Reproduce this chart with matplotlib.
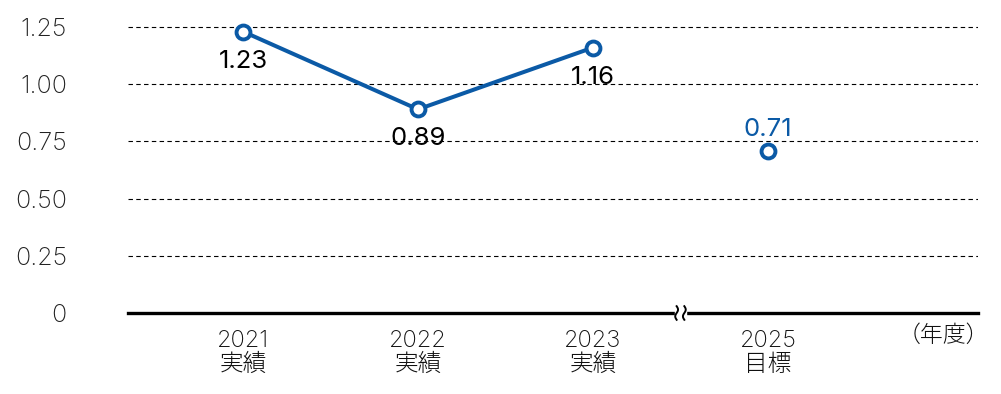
import numpy as np
import matplotlib.pyplot as plt
from matplotlib.transforms import blended_transform_factory

plt.rcParams['font.family'] = ['Inter', 'Noto Sans CJK JP', 'DejaVu Sans']

years = ["2021\n実績", "2022\n実績", "2023\n実績", "2025\n目標"]
actual_values = [1.23, 0.89, 1.16]
target_value = 0.71
y_ticks = [0, 0.25, 0.5, 0.75, 1.0, 1.25]
y_tick_labels = ["0", "0.25", "0.50", "0.75", "1.00", "1.25"]

blue = "#0b5aa6"

fig = plt.figure(figsize=(10.01, 3.94), dpi=100)
ax = fig.add_axes([0.1279, 0.2056, 0.977 - 0.1279, 0.9896 - 0.2056])

x_actual = np.arange(len(actual_values))
x_target = len(years) - 1

ax.plot(x_actual, actual_values, color=blue, lw=2.9, marker='o', ms=10,
        mfc='white', mec=blue, mew=2.8, zorder=3, clip_on=False)
ax.plot([x_target], [target_value], color=blue, lw=0, marker='o', ms=10,
        mfc='white', mec=blue, mew=2.8, zorder=3, clip_on=False)

for x, v in zip(x_actual, actual_values):
    ax.annotate(f"{v:.2f}", (x, v), xytext=(0, -13), textcoords='offset points',
                ha='center', va='top', fontsize=18.5, color='black')
ax.annotate(f"{target_value:.2f}", (x_target, target_value), xytext=(0, 7),
            textcoords='offset points', ha='center', va='bottom', fontsize=18.5, color=blue)

ax.set_xlim(-0.657, 4.2)
ax.set_ylim(0, 1.35)
ax.set_yticks(y_ticks)
ax.set_yticklabels(y_tick_labels)
ax.set_xticks(range(len(years)))
ax.set_xticklabels(years, linespacing=1.12)

for y in y_ticks[1:]:
    ax.axhline(y, color='black', lw=0.8, ls=(0, (4, 3)), zorder=1)

for s in ['top', 'right', 'left']:
    ax.spines[s].set_visible(False)
ax.spines['bottom'].set_linewidth(2.4)
ax.spines['bottom'].set_color('black')

ax.tick_params(axis='x', length=0, pad=12, labelsize=17, labelcolor='#111111')
ax.tick_params(axis='y', length=0, pad=44, labelsize=18, labelcolor='#222222')
for lbl in ax.get_yticklabels():
    lbl.set_fontweight('light')
for lbl in ax.get_xticklabels():
    lbl.set_fontweight('light')

# axis break mark
tr = blended_transform_factory(ax.transData, ax.transAxes)
ax.add_patch(plt.Rectangle((2.47, -0.03), 0.06, 0.06, transform=tr,
                           color='white', zorder=4, clip_on=False))
t = np.linspace(-1, 1, 50)
for xc in (2.478, 2.522):
    ax.plot(xc + 0.008 * np.sin(t * np.pi), t * 0.022, transform=tr,
            color='black', lw=1.4, zorder=5, clip_on=False)

ax.text(1.013, -0.04, "（年度）", transform=ax.transAxes, ha='right', va='top',
        fontsize=16.5, color='#111111', fontweight='light')

fig.savefig("out.png", dpi=100)
